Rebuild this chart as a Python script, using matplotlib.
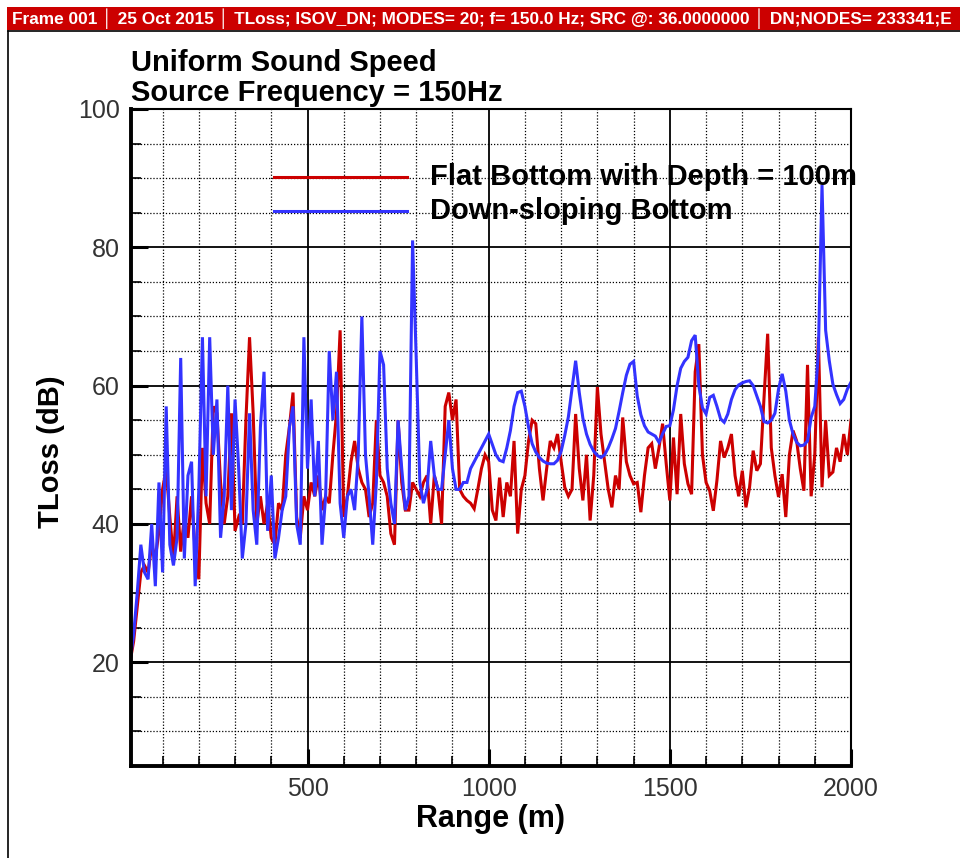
"""Transmission loss vs range, Tecplot-style frame."""

import matplotlib.pyplot as plt
import numpy as np
from matplotlib.patches import Rectangle
from matplotlib.lines import Line2D
from matplotlib.ticker import MultipleLocator, FixedLocator

plt.rcParams['font.family'] = ['Liberation Sans', 'DejaVu Sans']

# range samples (m), one every 10 m
range_m = np.arange(10, 2001, 10)

# Flat Bottom with Depth = 100m
tl_flat = [
    20, 23, 28, 33, 34, 33, 37, 35, 39, 45,
    48, 41, 35, 44, 36, 41, 38, 44, 36, 32,
    51, 43, 40, 57, 56, 46, 40, 44, 56, 39,
    41, 40, 55, 67, 56, 40, 44, 40, 43, 38,
    37, 43, 42, 50, 54, 59, 41, 38, 44, 42,
    46, 44, 47, 42, 44, 43, 50, 56, 68, 41,
    44, 49, 52, 48, 46, 45, 41, 43, 55, 47,
    46, 44, 38.6, 37, 55, 46, 42, 42, 46, 45,
    44, 46, 47, 40, 47, 45, 40, 57, 59, 55,
    58, 45, 44, 43.4, 43, 42.2, 45, 48, 50, 49,
    42, 40.5, 46.7, 41, 46, 44, 52, 38.6, 45, 47,
    52, 55, 54.5, 48, 43.4, 48, 52, 51, 53, 49,
    45.3, 44, 45, 55.9, 48, 43.4, 50, 40.5, 47, 59.8,
    53, 49, 45, 42.4, 47, 45, 55.4, 49, 47, 45.8,
    46, 41.7, 47, 51, 51.6, 48, 51, 54.5, 48.7, 43.4,
    52.5, 44.3, 55.9, 48.7, 45.8, 44.3, 62, 66, 50, 46,
    44.8, 41.9, 46.3, 52, 49.6, 51, 53, 47, 44, 47.7,
    42.4, 45.3, 50.6, 47.7, 48.7, 58.3, 67.5, 51, 47, 43.9,
    47.2, 41, 50, 53.5, 52, 48, 44.8, 63, 44, 50,
    67, 45.3, 55, 47, 47.5, 51, 49, 53, 50, 55,
]

# Down-sloping Bottom
tl_slope = [
    20, 24, 30, 37, 33, 32, 40, 31, 46, 33,
    57, 37, 34, 38, 64, 35, 47, 49, 31, 45,
    67, 44, 67, 50, 58, 38, 44, 60, 42, 58,
    48, 35, 40, 56, 42, 37, 54, 62, 39, 47,
    35, 38, 42, 44, 54, 57, 40, 37, 67, 48,
    58, 44, 52, 37, 44, 65, 55, 62, 43, 38,
    44, 45, 42, 50, 70, 50, 44, 37, 46, 65,
    63, 48, 43, 40, 55, 48, 42, 44, 81, 64,
    46, 43, 45, 52, 47, 45, 45, 50, 55, 48,
    45, 45, 46, 46, 48, 49, 50, 51, 52, 53,
    51.5, 50, 49.2, 49, 51, 53.5, 57, 59, 59.2, 57,
    54, 51.6, 50.4, 49.6, 49.1, 48.8, 48.7, 48.7, 49.2, 50.5,
    52.8, 55.5, 59.5, 63.6, 59, 55.3, 53, 51.5, 50.5, 49.9,
    49.6, 50, 51, 52.3, 53.8, 56.3, 59, 61.5, 63.1, 63.5,
    58.5, 55.8, 54.2, 53.3, 53, 52.7, 51.8, 53, 54.1, 54.2,
    56.5, 60, 62.5, 63.5, 64.1, 66.5, 67.3, 60, 56.8, 55.9,
    58.3, 58.6, 57, 55.2, 54.7, 55.9, 58, 59.4, 60.1, 60.4,
    60.6, 60.7, 60, 58.5, 57, 54.8, 54.6, 55, 56, 59.5,
    61.7, 59.2, 55, 53, 51.8, 51.3, 51.4, 52, 55.4, 57,
    65, 89, 68, 63.6, 60.2, 58.7, 57.4, 58, 59.5, 60.5,
]

series_names = ["Flat Bottom with Depth = 100m", "Down-sloping Bottom"]
series_colors = ["#cc0000", "#3333ff"]
y_ticks = [20, 40, 60, 80, 100]
x_ticks = [500, 1000, 1500, 2000]
# header as far as it is visible in the frame
header = ("Frame 001 \u2502 25 Oct 2015 \u2502 TLoss; ISOV_DN; MODES= 20; "
          "f= 150.0 Hz; SRC @: 36.0000000 \u2502 DN;NODES= 233341;E")

W, H = 960, 858
fig = plt.figure(figsize=(W / 100, H / 100), dpi=100)

# frame header bar and border
fig.patches.append(Rectangle((7 / W, 1 - 30 / H), 1, 23 / H, transform=fig.transFigure,
                             facecolor="#cc0000", edgecolor="none"))
fig.lines.append(Line2D([8 / W, 1], [1 - 31 / H] * 2, transform=fig.transFigure,
                        color="black", lw=1.2))
fig.lines.append(Line2D([8 / W] * 2, [0, 1 - 31 / H], transform=fig.transFigure,
                        color="black", lw=1.2))
fig.text(12 / W, 1 - 19 / H, header, color="white", fontsize=12.4, fontweight="bold",
         va="center", ha="left")

left, right, top, bottom = 130.7, 851, 109, 766
ax = fig.add_axes([left / W, 1 - bottom / H, (right - left) / W, (bottom - top) / H])

ax.plot(range_m, tl_flat, color=series_colors[0], lw=2.2, solid_joinstyle="miter")
ax.plot(range_m, tl_slope, color=series_colors[1], lw=2.2, solid_joinstyle="miter")

ax.set_xlim(12, 2000)
ax.set_ylim(5, 100)
ax.xaxis.set_major_locator(FixedLocator(x_ticks))
ax.xaxis.set_minor_locator(MultipleLocator(100))
ax.yaxis.set_major_locator(FixedLocator(y_ticks))
ax.yaxis.set_minor_locator(MultipleLocator(5))

ax.grid(True, which="major", color="black", lw=1.3)
ax.grid(True, which="minor", color="black", lw=0.9, linestyle=(0, (1, 1.5)))
ax.set_axisbelow(True)

ax.tick_params(which="major", direction="in", length=12, width=2.2,
               labelsize=18, labelcolor="#333333", pad=8)
ax.tick_params(which="minor", direction="in", length=7, width=1.2)
for side in ("left", "bottom"):
    ax.spines[side].set_linewidth(2.8)
for side in ("right", "top"):
    ax.spines[side].set_linewidth(1.5)

ax.set_xlabel("Range (m)", fontsize=22, fontweight="bold", labelpad=2)
ax.set_ylabel("TLoss (dB)", fontsize=21, fontweight="bold")
ax.yaxis.set_label_coords(-0.091, 0.478)

fig.text(131 / W, 1 - 71 / H, "Uniform Sound Speed", fontsize=21,
         fontweight="bold", va="baseline")
fig.text(131 / W, 1 - 101 / H, "Source Frequency = 150Hz", fontsize=21,
         fontweight="bold", va="baseline")

# legend drawn by hand, as in the original frame
leg_x0, leg_x1, leg_tx = 0.199, 0.3836, 0.4155
for name, color, yy in zip(series_names, series_colors, [0.8965, 0.8447]):
    ax.plot([leg_x0, leg_x1], [yy, yy], color=color, lw=2.2, transform=ax.transAxes)
    ax.text(leg_tx, yy, name, transform=ax.transAxes, fontsize=21,
            fontweight="bold", va="center", ha="left")

fig.savefig("out.png", dpi=100)
